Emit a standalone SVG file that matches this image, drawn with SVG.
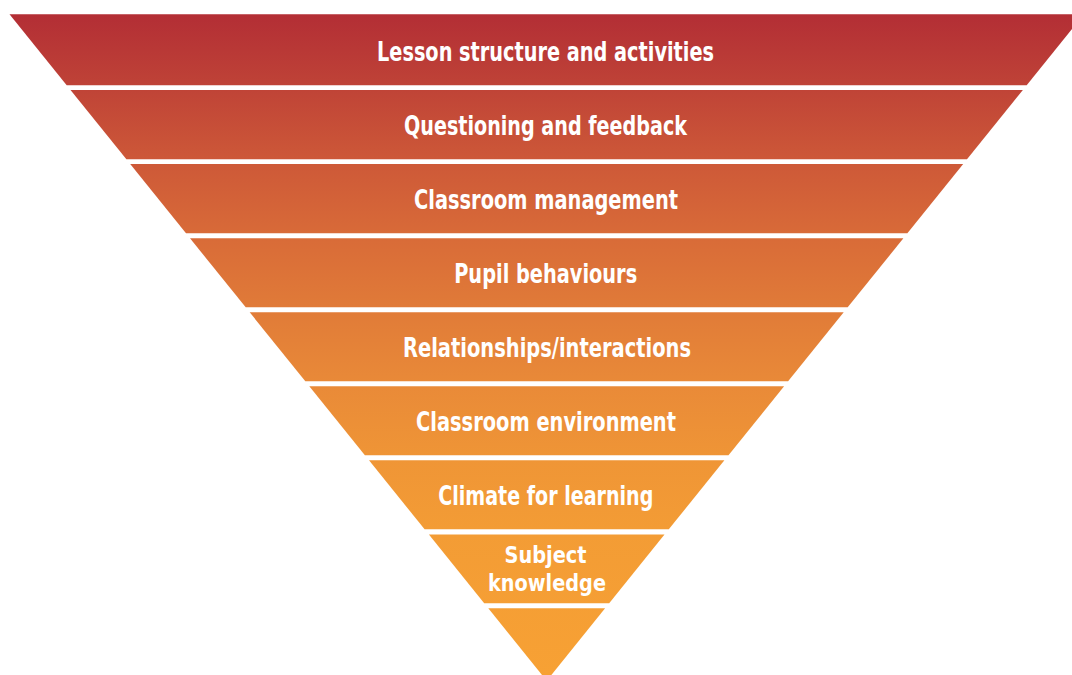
<svg xmlns="http://www.w3.org/2000/svg" width="1072" height="675" viewBox="0 0 1072 675">
<defs>
<linearGradient id="g" gradientUnits="userSpaceOnUse" x1="0" y1="14" x2="0" y2="676">
<stop offset="0" stop-color="#B32E35"/>
<stop offset="0.11" stop-color="#BF4337"/>
<stop offset="0.22" stop-color="#CD5838"/>
<stop offset="0.33" stop-color="#D86A38"/>
<stop offset="0.44" stop-color="#E07A38"/>
<stop offset="0.56" stop-color="#E98A38"/>
<stop offset="0.67" stop-color="#EF9536"/>
<stop offset="0.78" stop-color="#F39C35"/>
<stop offset="1" stop-color="#F7A134"/>
</linearGradient>
</defs>
<style>
.band{fill:url(#g);}
.lbl{fill:#FFFFFF;font-family:"Liberation Sans Narrow","DejaVu Sans Condensed","Liberation Sans",sans-serif;font-weight:bold;font-size:26px;text-anchor:middle;}
.sm{font-size:23px;}
</style>
<rect width="1072" height="675" fill="#FFFFFF"/>
<g id="band1"><polygon class="band" points="9.5,14.3 1083.9,14.3 1026.7,85.3 66.7,85.3"/><text class="lbl" x="545.5" y="61" textLength="337" lengthAdjust="spacingAndGlyphs">Lesson structure and activities</text></g>
<g id="band2"><polygon class="band" points="70.5,90 1022.9,90 967,159.3 126.4,159.3"/><text class="lbl" x="545.5" y="135" textLength="283" lengthAdjust="spacingAndGlyphs">Questioning and feedback</text></g>
<g id="band3"><polygon class="band" points="130.2,164 963.2,164 907.4,233.3 186,233.3"/><text class="lbl" x="546" y="208.5" textLength="264" lengthAdjust="spacingAndGlyphs">Classroom management</text></g>
<g id="band4"><polygon class="band" points="190,238.3 903.4,238.3 847.7,307.3 245.7,307.3"/><text class="lbl" x="545.7" y="283" textLength="183" lengthAdjust="spacingAndGlyphs">Pupil behaviours</text></g>
<g id="band5"><polygon class="band" points="249.7,312.3 843.7,312.3 788.1,381.3 305.3,381.3"/><text class="lbl" x="547" y="357" textLength="288" lengthAdjust="spacingAndGlyphs">Relationships/interactions</text></g>
<g id="band6"><polygon class="band" points="309.3,386.3 784.1,386.3 728.5,455.3 364.9,455.3"/><text class="lbl" x="546" y="431" textLength="260" lengthAdjust="spacingAndGlyphs">Classroom environment</text></g>
<g id="band7"><polygon class="band" points="369,460.3 724.4,460.3 668.8,529.3 424.6,529.3"/><text class="lbl" x="545.8" y="504.5" textLength="215" lengthAdjust="spacingAndGlyphs">Climate for learning</text></g>
<g id="band8"><polygon class="band" points="428.9,534.6 664.5,534.6 609.2,603.3 484.2,603.3"/><text class="lbl sm" x="545.5" y="562.5" textLength="82" lengthAdjust="spacingAndGlyphs">Subject</text><text class="lbl sm" x="547" y="590.5" textLength="118" lengthAdjust="spacingAndGlyphs">knowledge</text></g>
<g id="band9"><polygon class="band" points="488.3,608.3 605.1,608.3 546.7,680.8"/></g>
<g id="connectors"></g>
</svg>
